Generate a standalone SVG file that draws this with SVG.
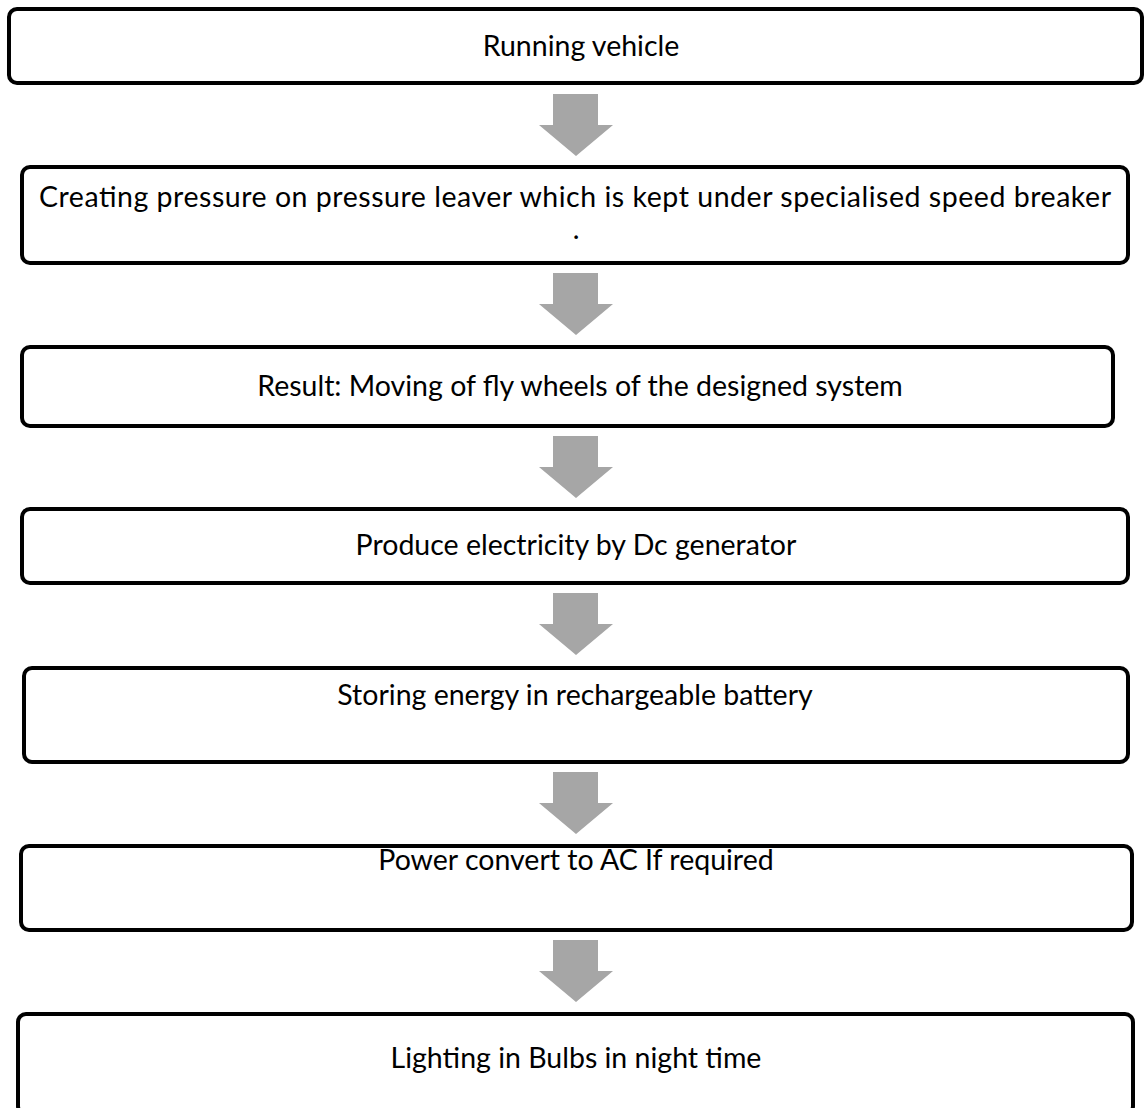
<svg xmlns="http://www.w3.org/2000/svg" width="1147" height="1108" viewBox="0 0 1147 1108">
<style>
.box{fill:#ffffff;stroke:#000000;stroke-width:4}
.lbl{font-family:Lato,"Open Sans","Liberation Sans",sans-serif;font-size:28.5px;fill:#000000;text-anchor:middle}
.arr{fill:#a6a6a6}
</style>
<defs>
<path id="arrow" d="M-23,0 H22 V31 H37 L0,62 L-37,31 H-23 Z"/>
</defs>
<rect width="1147" height="1108" fill="#ffffff"/>
<g id="connectors">
<use href="#arrow" class="arr" x="576" y="94"/>
<use href="#arrow" class="arr" x="576" y="273"/>
<use href="#arrow" class="arr" x="576" y="436"/>
<use href="#arrow" class="arr" x="576" y="593"/>
<use href="#arrow" class="arr" x="576" y="772"/>
<use href="#arrow" class="arr" x="576" y="940"/>
</g>
<g id="n1">
<rect class="box" x="9" y="9" width="1133" height="74" rx="8"/>
<text class="lbl" x="581" y="56">Running vehicle</text>
</g>
<g id="n2">
<rect class="box" x="22" y="167" width="1106" height="96" rx="8"/>
<text class="lbl" x="575" y="207" textLength="1072" lengthAdjust="spacing">Creating pressure on pressure leaver which is kept under specialised speed breaker</text>
<text class="lbl" x="576" y="239">.</text>
</g>
<g id="n3">
<rect class="box" x="22" y="347" width="1091" height="79" rx="8"/>
<text class="lbl" x="580" y="396">Result: Moving of fly wheels of the designed system</text>
</g>
<g id="n4">
<rect class="box" x="22" y="509" width="1106" height="74" rx="8"/>
<text class="lbl" x="576" y="555">Produce electricity by Dc generator</text>
</g>
<g id="n5">
<rect class="box" x="24" y="668" width="1104" height="94" rx="8"/>
<text class="lbl" x="575" y="705">Storing energy in rechargeable battery</text>
</g>
<g id="n6">
<rect class="box" x="21" y="846" width="1111" height="84" rx="8"/>
<text class="lbl" x="576" y="870">Power convert to AC If required</text>
</g>
<g id="n7">
<rect class="box" x="18" y="1014" width="1115" height="100" rx="8"/>
<text class="lbl" x="576" y="1068">Lighting in Bulbs in night time</text>
</g>
</svg>
